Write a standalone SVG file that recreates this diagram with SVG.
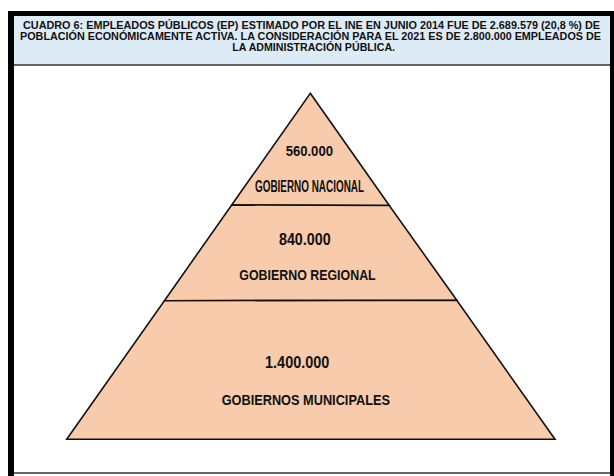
<svg xmlns="http://www.w3.org/2000/svg" width="614" height="476" viewBox="0 0 614 476">
<style>
.t{font-family:"Liberation Sans",Arial,sans-serif;font-weight:bold;fill:#111;text-anchor:middle}
.hd{font-size:10.3px}
.tier{fill:#F8CBAD;stroke:#111;stroke-width:1.6;stroke-linejoin:miter}
</style>
<rect x="0" y="0" width="614" height="476" fill="#fff"/>
<g id="frame">
<rect x="14" y="16" width="597" height="49" fill="#DDEBF7"/>
<line x1="14" y1="65" x2="611" y2="65" stroke="#333" stroke-width="1.3"/>
<rect x="8" y="11" width="606" height="5" fill="#000"/>
<rect x="8" y="11" width="6" height="465" fill="#000"/>
<rect x="610" y="11" width="4" height="465" fill="#000"/>
<line x1="14" y1="473" x2="610" y2="473" stroke="#666" stroke-width="2"/>
</g>
<g id="title">
<text class="t hd" x="311.5" y="29.3" textLength="577" lengthAdjust="spacingAndGlyphs">CUADRO 6: EMPLEADOS PÚBLICOS (EP) ESTIMADO POR EL INE EN JUNIO 2014 FUE DE 2.689.579 (20,8 %) DE</text>
<text class="t hd" x="310.5" y="40.2" textLength="581" lengthAdjust="spacingAndGlyphs">POBLACIÓN ECONÓMICAMENTE ACTIVA. LA CONSIDERACIÓN PARA EL 2021 ES DE 2.800.000 EMPLEADOS DE</text>
<text class="t hd" x="313.7" y="51.3" textLength="162.7" lengthAdjust="spacingAndGlyphs">LA ADMINISTRACIÓN PÚBLICA.</text>
</g>
<g id="tier-nacional">
<polygon class="tier" points="310.3,93.3 389.3,205.5 231.7,205"/>
<text class="t" x="309.3" y="155.7" font-size="14" textLength="47.3" lengthAdjust="spacingAndGlyphs">560.000</text>
<text class="t" x="309.5" y="191.7" font-size="16" textLength="109" lengthAdjust="spacingAndGlyphs">GOBIERNO NACIONAL</text>
</g>
<g id="tier-regional">
<polygon class="tier" points="231.7,205 389.3,205.5 456.8,300.3 164.4,300.7"/>
<text class="t" x="304.8" y="245" font-size="16" textLength="51.7" lengthAdjust="spacingAndGlyphs">840.000</text>
<text class="t" x="307.5" y="280" font-size="15" textLength="136.4" lengthAdjust="spacingAndGlyphs">GOBIERNO REGIONAL</text>
</g>
<g id="tier-municipal">
<polygon class="tier" points="164.4,300.7 456.8,300.3 555,439.3 66.7,439.3"/>
<text class="t" x="297.2" y="368.3" font-size="16" textLength="64.3" lengthAdjust="spacingAndGlyphs">1.400.000</text>
<text class="t" x="305.8" y="405" font-size="15" textLength="168.3" lengthAdjust="spacingAndGlyphs">GOBIERNOS MUNICIPALES</text>
</g>
<g id="connectors"></g>
</svg>
